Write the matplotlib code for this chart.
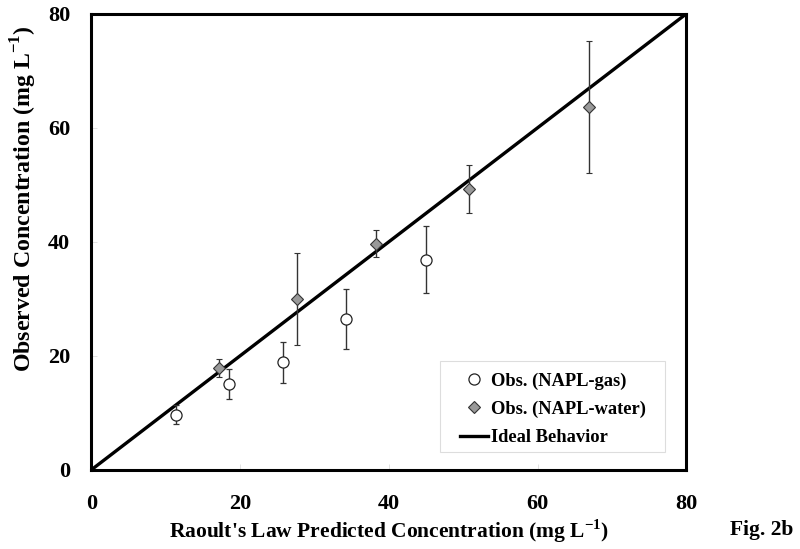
import numpy as np
import matplotlib
matplotlib.use("Agg")
import matplotlib.pyplot as plt
from matplotlib.lines import Line2D
from matplotlib.patches import Rectangle

plt.rcParams['font.family'] = ['Liberation Serif', 'DejaVu Serif']
plt.rcParams['font.weight'] = 'bold'
plt.rcParams['mathtext.fontset'] = 'custom'
plt.rcParams['mathtext.rm'] = 'Liberation Serif:bold'
plt.rcParams['mathtext.bf'] = 'Liberation Serif:bold'

# NAPL-gas observations
gas_x = [11.4, 18.5, 25.8, 34.2, 45.0]
gas_y = [9.6, 15.0, 18.9, 26.4, 36.9]
gas_lo = [8.1, 12.4, 15.3, 21.2, 31.0]
gas_hi = [11.4, 17.7, 22.5, 31.7, 42.8]

# NAPL-water observations
wat_x = [17.2, 27.6, 38.3, 50.8, 66.9]
wat_y = [17.9, 30.0, 39.7, 49.2, 63.6]
wat_lo = [16.3, 21.9, 37.3, 45.1, 52.0]
wat_hi = [19.5, 38.0, 42.0, 53.4, 75.3]

ideal = [0, 80]
ticks = [0, 20, 40, 60, 80]

fig = plt.figure(figsize=(8, 5.49), dpi=100)
ax = fig.add_axes([0.114, 0.144, 0.744, 0.831])

gas_err = [np.array(gas_y) - np.array(gas_lo), np.array(gas_hi) - np.array(gas_y)]
wat_err = [np.array(wat_y) - np.array(wat_lo), np.array(wat_hi) - np.array(wat_y)]

gas_style = dict(marker='o', ms=8, mfc='white', mec='#222222', mew=0.9, ls='none')
wat_style = dict(marker='D', ms=6.5, mfc='#999999', mec='#333333', mew=0.8, ls='none')

ax.plot(ideal, ideal, color='black', lw=2.4, zorder=2)
ax.errorbar(gas_x, gas_y, yerr=gas_err, ecolor='#333333', elinewidth=1.0,
            capsize=2.5, capthick=1.0, zorder=3, **gas_style)
ax.errorbar(wat_x, wat_y, yerr=wat_err, ecolor='#333333', elinewidth=1.0,
            capsize=2.5, capthick=1.0, zorder=3, **wat_style)

ax.set_xlim(0, 80)
ax.set_ylim(0, 80)
ax.set_xticks(ticks)
ax.set_yticks(ticks)
ax.tick_params(direction='in', length=4, width=0.6, color='#dddddd', labelsize=16)
ax.tick_params(axis='x', pad=17)
ax.tick_params(axis='y', pad=15)
for s in ax.spines.values():
    s.set_linewidth(2.2)

ax.set_xlabel(r"Raoult's Law Predicted Concentration (mg L$^{\mathbf{-1}}$)",
              fontsize=15.5, fontweight='bold', labelpad=3)
fig.text(24 / 800, 1 - 199 / 549, r"Observed Concentration (mg L$^{\mathbf{-1}}$)",
         rotation=90, ha='center', va='center', fontsize=17.2, fontweight='bold')
fig.text(762 / 800, 1 - 530 / 549, "Fig. 2b", ha='center', va='center',
         fontsize=15.5, fontweight='bold')

# legend box drawn separately, entries placed inside it
ax.add_patch(Rectangle((0.5866, 0.0395), 0.378, 0.1996, transform=ax.transAxes,
                       facecolor='white', edgecolor='#dddddd', lw=0.8, zorder=4))
handles = [Line2D([], [], **gas_style),
           Line2D([], [], **wat_style),
           Line2D([], [], color='black', lw=2.4)]
labels = ['Obs. (NAPL-gas)', 'Obs. (NAPL-water)', 'Ideal Behavior']
leg = ax.legend(handles, labels, loc='upper left', bbox_to_anchor=(0.620, 0.214),
                frameon=False, fontsize=13.3, handlelength=1.5, borderpad=0,
                borderaxespad=0, handletextpad=0.15, labelspacing=0.6)
leg.set_zorder(5)

fig.savefig('out.png', dpi=100)
